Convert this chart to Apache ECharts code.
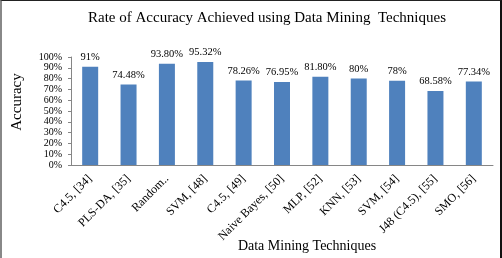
<!DOCTYPE html>
<html lang="en">
<head>
    <meta charset="UTF-8">
    <title>Accuracy</title>
    <script src="https://cdn.jsdelivr.net/npm/echarts@6/dist/echarts.min.js"></script>
    <style>
        html, body { margin: 0; padding: 0; height: 100%; overflow: hidden; background: #fff; }
        #main {
            position: absolute; left: 0; top: 0; width: 498px; height: 257px;
            border-top: 1px solid #222; border-left: 2px solid #888; border-right: 2px solid #111;
        }
    </style>
</head>
<body>
    <div id="main"></div>
    <script>
        var categories = ["C4.5, [34]", "PLS-DA, [35]", "Random..", "SVM, [48]", "C4.5, [49]",
            "Naive Bayes, [50]", "MLP, [52]", "KNN, [53]", "SVM, [54]", "J48 (C4.5), [55]", "SMO, [56]"];
        var accuracy = [91, 74.48, 93.80, 95.32, 78.26, 76.95, 81.80, 80, 78, 68.58, 77.34];
        var valueLabels = ["91%", "74.48%", "93.80%", "95.32%", "78.26%", "76.95%", "81.80%", "80%", "78%", "68.58%", "77.34%"];

        var serif = '"Liberation Serif", "DejaVu Serif", serif';
        var chart = echarts.init(document.getElementById('main'));
        chart.setOption({
            animation: false,
            title: [{
                text: 'Rate of Accuracy Achieved using Data Mining  Techniques',
                left: 260, top: 5, textAlign: 'center',
                textStyle: { fontFamily: serif, fontSize: 15, fontWeight: 'normal', color: '#000' }
            }, {
                text: 'Data Mining Techniques',
                left: 300, top: 233, textAlign: 'center',
                textStyle: { fontFamily: serif, fontSize: 14, fontWeight: 'normal', color: '#000' }
            }],
            grid: { left: 62, right: 7, top: 56, bottom: 93 },
            xAxis: {
                type: 'category',
                data: categories,
                axisLine: { lineStyle: { color: '#868686' } },
                axisTick: { length: 4, lineStyle: { color: '#868686' } },
                axisLabel: { rotate: 45, interval: 0, margin: 12, fontFamily: serif, fontSize: 12, color: '#000' }
            },
            yAxis: {
                type: 'value',
                min: 0, max: 100, interval: 10,
                name: 'Accuracy',
                nameLocation: 'middle',
                nameGap: 46,
                nameTextStyle: { fontFamily: serif, fontSize: 15, color: '#000', padding: [0, 0, 0, 18] },
                axisLine: { show: true, lineStyle: { color: '#868686' } },
                axisTick: { show: true, length: 3, lineStyle: { color: '#868686' } },
                splitLine: { show: false },
                axisLabel: { formatter: '{value}%', margin: 9, fontFamily: serif, fontSize: 10, color: '#000' }
            },
            series: [{
                type: 'bar',
                data: accuracy,
                barWidth: 16,
                itemStyle: { color: '#4f81bd' },
                label: {
                    show: true, position: 'top', distance: 4,
                    fontFamily: serif, fontSize: 10.5, color: '#000',
                    formatter: function (p) { return valueLabels[p.dataIndex]; }
                }
            }]
        });
    </script>
</body>
</html>
